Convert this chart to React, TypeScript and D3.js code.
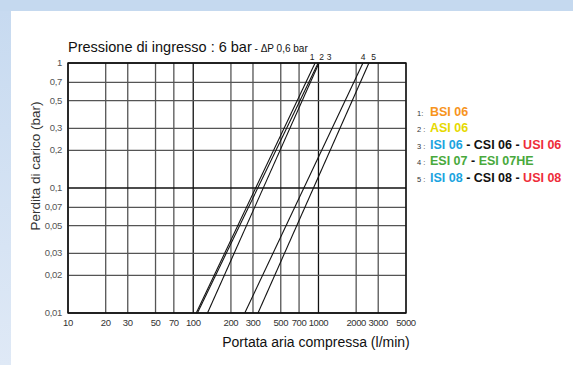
import React from 'react'
import * as d3 from 'd3'

// flow (l/min) where each curve crosses 0.01 bar and 1 bar
const seriesIds = ['1', '2', '3', '4', '5']
const flowAtLow = [105.7, 108, 130, 258, 329]
const flowAtHigh = [940, 994, 1010, 2265, 2529]
const dpRange = [0.01, 1]

const xTicks = [10, 20, 30, 50, 70, 100, 200, 300, 500, 700, 1000, 2000, 3000, 5000]
const yTicks = [1, 0.7, 0.5, 0.3, 0.2, 0.1, 0.07, 0.05, 0.03, 0.02, 0.01]
const yTickLabels = ['1', '0,7', '0,5', '0,3', '0,2', '0,1', '0,07', '0,05', '0,03', '0,02', '0,01']

// legend rows: [text, colour] parts
const legendRows: [string, string][][] = [
  [['BSI 06', '#f7941d']],
  [['ASI 06', '#e6d900']],
  [['ISI 06', '#1ba4e0'], [' - CSI 06 - ', '#111'], ['USI 06', '#ee2d3a']],
  [['ESI 07', '#48a93c'], [' - ', '#111'], ['ESI 07HE', '#48a93c']],
  [['ISI 08', '#1ba4e0'], [' - CSI 08 - ', '#111'], ['USI 08', '#ee2d3a']],
]

const W = 573, H = 365
const plot = { left: 68, right: 406, top: 63, bottom: 313 }

export default function App() {
  const x = d3.scaleLog().domain([10, 5000]).range([plot.left, plot.right])
  const y = d3.scaleLog().domain([0.01, 1]).range([plot.bottom, plot.top])
  const line = d3.line<[number, number]>().x(d => x(d[0])).y(d => y(d[1]))

  const isMajorX = (v: number) => Math.abs(Math.log10(v) % 1) < 1e-9
  const isMajorY = (v: number) => Math.abs(Math.log10(v) - Math.round(Math.log10(v))) < 1e-9

  const font = 'Liberation Sans, Arial, Helvetica, sans-serif'
  const labelX = [312, 321.5, 329, 363, 373.5]

  return (
    <div style={{ position: 'absolute', left: 0, top: 0 }}>
      <svg width={W} height={H} style={{ display: 'block', fontFamily: font }}>
        <defs>
          <linearGradient id="side" x1="0" y1="0" x2="0" y2="1">
            <stop offset="0" stopColor="#c7daf0" />
            <stop offset="1" stopColor="#dfe9f6" />
          </linearGradient>
        </defs>
        <rect x={0} y={0} width={W} height={H} fill="#fff" />
        <rect x={0} y={0} width={W} height={11} fill="#c5d9ef" />
        <rect x={0} y={11} width={11} height={H - 11} fill="url(#side)" />

        {/* grid */}
        {xTicks.map(v => (
          <line key={'gx' + v} x1={x(v)} x2={x(v)} y1={plot.top} y2={plot.bottom}
            stroke={isMajorX(v) ? '#111' : '#555'} strokeWidth={1.3} />
        ))}
        {yTicks.map(v => (
          <line key={'gy' + v} x1={plot.left} x2={plot.right} y1={y(v)} y2={y(v)}
            stroke={isMajorY(v) ? '#111' : '#555'} strokeWidth={1.3} />
        ))}
        <rect x={plot.left} y={plot.top} width={plot.right - plot.left} height={plot.bottom - plot.top}
          fill="none" stroke="#111" strokeWidth={1.4} />

        {/* curves */}
        {seriesIds.map((id, i) => (
          <path key={'s' + id}
            d={line([[flowAtLow[i], dpRange[0]], [flowAtHigh[i], dpRange[1]]]) || ''}
            fill="none" stroke="#111" strokeWidth={1.1} />
        ))}
        {seriesIds.map((id, i) => (
          <text key={'l' + id} x={labelX[i]} y={60} fontSize={8.5} fill="#222" textAnchor="middle">{id}</text>
        ))}

        {/* tick labels */}
        {yTicks.map((v, i) => (
          <text key={'ty' + v} x={62} y={y(v) + 3} fontSize={9.5} fill="#555" textAnchor="end"
            style={{ letterSpacing: '-0.3px' }}>{yTickLabels[i]}</text>
        ))}
        {xTicks.map(v => (
          <text key={'tx' + v} x={x(v)} y={326} fontSize={9.5} fill="#333" textAnchor="middle"
            style={{ letterSpacing: '-0.4px' }}>{v}</text>
        ))}

        {/* titles */}
        <text x={68} y={52} fontSize={14.5} fill="#111">
          Pressione di ingresso : 6 bar
          <tspan fontSize={10}> - ΔP 0,6 bar</tspan>
        </text>
        <text x={316} y={347} fontSize={14} fill="#111" textAnchor="middle">Portata aria compressa (l/min)</text>
        <text transform={`translate(40,166) rotate(-90)`} fontSize={13.5} fill="#333" textAnchor="middle">
          Perdita di carico (bar)
        </text>

        {/* legend */}
        {legendRows.map((row, i) => (
          <g key={'lg' + i} transform={`translate(417,${116 + i * 16.4})`}>
            <text x={0} y={0} fontSize={7.5} fill="#333">{seriesIds[i] + (i === 0 ? ':' : ' :')}</text>
            <text x={13} y={0} fontSize={12.5} fontWeight="bold">
              {row.map((p, j) => <tspan key={j} fill={p[1]}>{p[0]}</tspan>)}
            </text>
          </g>
        ))}
      </svg>
    </div>
  )
}
